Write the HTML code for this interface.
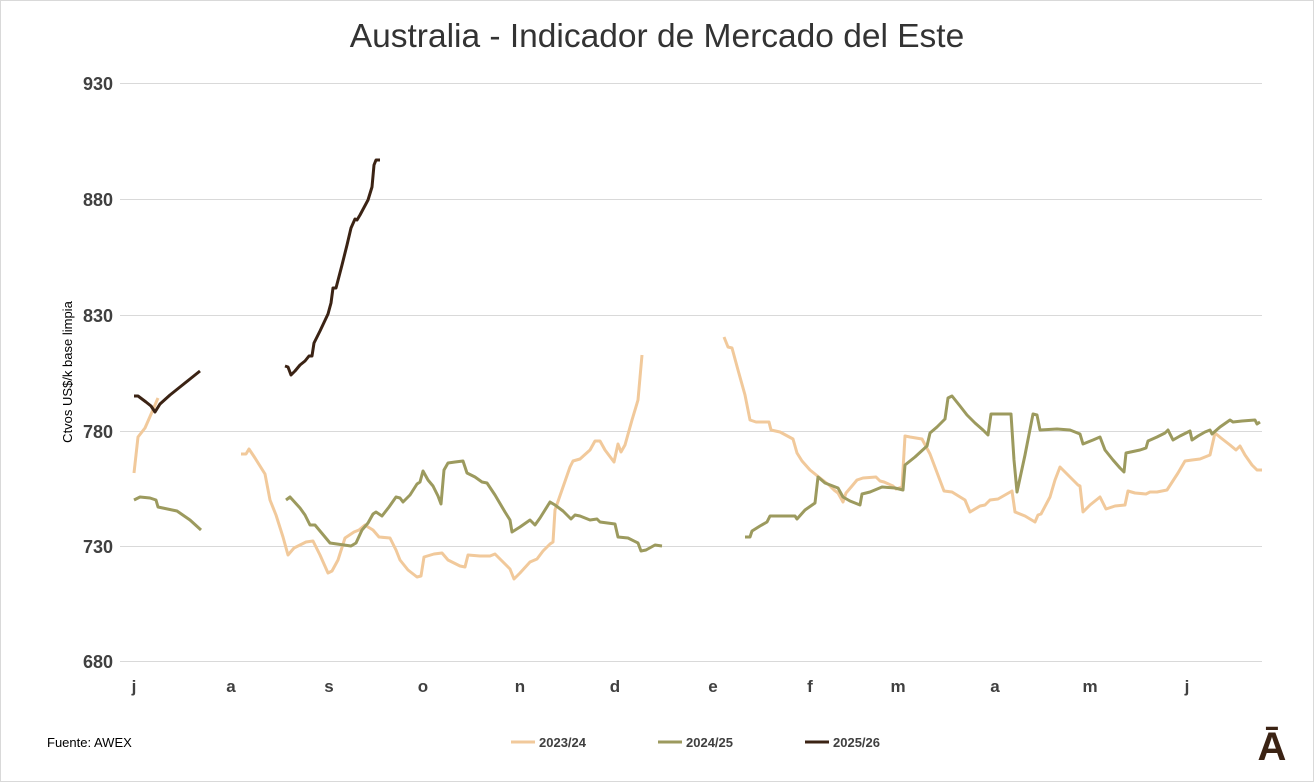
<!DOCTYPE html>
<html><head><meta charset="utf-8"><style>
body{margin:0;background:#fff}
svg{display:block;font-family:"Liberation Sans",sans-serif}
</style></head><body>
<svg width="1314" height="782" viewBox="0 0 1314 782">
<rect x="0.5" y="0.5" width="1313" height="781" fill="#fff" stroke="#d9d9d9"/>
<text x="657" y="47" text-anchor="middle" font-size="33.5" fill="#333">Australia - Indicador de Mercado del Este</text>
<g stroke="#d9d9d9" stroke-width="1">
<line x1="120" x2="1262" y1="83.5" y2="83.5"/><line x1="120" x2="1262" y1="199.5" y2="199.5"/>
<line x1="120" x2="1262" y1="315.5" y2="315.5"/><line x1="120" x2="1262" y1="431.5" y2="431.5"/>
<line x1="120" x2="1262" y1="546.5" y2="546.5"/><line x1="120" x2="1262" y1="661.5" y2="661.5"/>
</g>
<g font-size="18" font-weight="bold" fill="#404040" text-anchor="end">
<text x="113" y="90">930</text><text x="113" y="206">880</text><text x="113" y="322">830</text>
<text x="113" y="438">780</text><text x="113" y="553">730</text><text x="113" y="668">680</text>
</g>
<g font-size="17" font-weight="bold" fill="#404040" text-anchor="middle">
<text x="134" y="692">j</text><text x="231" y="692">a</text><text x="329" y="692">s</text><text x="423" y="692">o</text>
<text x="520" y="692">n</text><text x="615" y="692">d</text><text x="713" y="692">e</text><text x="810" y="692">f</text>
<text x="898" y="692">m</text><text x="995" y="692">a</text><text x="1090" y="692">m</text><text x="1187" y="692">j</text>
</g>
<text transform="translate(72,372) rotate(-90)" text-anchor="middle" font-size="13" fill="#000">Ctvos US$/k base limpia</text>
<g fill="none" stroke-width="3" stroke-linejoin="round">
<g stroke="#F1C99B">
<polyline points="134,473 138,437 145,428 152,412 158,398"/>
<polyline points="241,454 246,454 249,449 255,458 265,474 270,500 276,515 283,537 288,555 294,548 300,545 306,542 313,541 320,555 328,573 332,571 338,560 345,538 354,532 359,530 365,525 368,527 373,530 379,537 390,538 396,550 400,560 408,570 417,577 421,576 424,557 434,554 442,553 448,560 460,566 465,567 468,555 480,556 490,556 495,554 510,569 514,579 520,573 530,562 537,559 543,551 550,544 553,542 555,510 570,467 573,461 580,459 590,450 595,441 600,441 605,450 614,462 618,444 621,452 625,445 632,420 638,400 642,355"/>
<polyline points="724,337 728,347 732,348 738,370 745,395 750,420 756,422 769,422 771,430 780,432 793,439 797,453 802,461 810,470 820,478 829,485 834,490 838,493 843,502 846,493 852,486 857,480 863,478 876,477 880,481 884,482 893,486 896,489 902,487 905,436 910,437 922,439 930,454 944,491 952,492 965,500 970,512 980,506 985,505 990,500 998,499 1012,491 1015,512 1025,516 1035,522 1038,515 1041,514 1050,497 1055,480 1060,467 1068,475 1078,485 1080,486 1083,512 1090,505 1100,497 1106,509 1115,506 1125,505 1128,491 1135,493 1146,494 1150,492 1157,492 1167,490 1178,473 1185,461 1192,460 1200,459 1210,455 1215,433 1221,438 1230,445 1236,450 1240,446 1245,455 1252,465 1257,470 1262,470"/>
</g>
<g stroke="#9C9A5E">
<polyline points="134,500 140,497 150,498 156,500 158,507 177,511 190,520 201,530"/>
<polyline points="286,500 290,497 300,508 305,515 310,525 315,525 330,543 351,546 356,543 362,530 368,523 373,514 376,512 382,516 389,507 396,497 400,498 403,502 410,495 417,484 420,482 423,471 428,480 433,486 438,496 441,504 444,470 448,463 455,462 463,461 467,473 475,477 482,482 487,483 495,495 505,512 510,520 512,532 520,527 530,520 535,525 540,518 550,502 555,505 563,511 571,519 575,515 580,516 590,520 597,519 600,522 615,524 618,537 628,538 638,543 641,551 646,550 655,545 662,546"/>
<polyline points="745,537 750,537 752,531 760,526 767,522 770,516 795,516 797,519 805,510 815,503 818,477 825,483 838,488 843,497 850,501 860,505 862,494 870,492 882,487 895,488 903,490 905,465 915,457 927,446 930,433 937,427 945,419 948,398 952,396 960,406 967,415 975,423 983,430 988,435 991,414 1011,414 1014,460 1017,492 1025,455 1033,414 1037,415 1040,430 1057,429 1070,430 1080,434 1083,444 1093,440 1100,437 1105,450 1113,460 1120,468 1124,472 1126,453 1140,450 1146,448 1148,441 1157,437 1165,433 1168,430 1173,440 1180,436 1190,431 1192,440 1198,436 1205,432 1210,430 1212,434 1220,427 1230,420 1233,422 1242,421 1255,420 1257,424 1260,422"/>
</g>
<g stroke="#3B2314">
<polyline points="134,396 138,396 146,402 151,406 155,412 160,404 170,395 180,387 190,379 200,371"/>
<polyline points="285,366 288,367 291,375 295,371 300,365 305,361 309,356 312,356 314,343 320,331 328,314 331,303 333,288 336,288 342,265 347,245 351,228 355,219 357,220 360,215 368,200 372,187 374,165 376,160 380,160"/>
</g>
</g>
<text x="47" y="747" font-size="13" fill="#000">Fuente: AWEX</text>
<g stroke-width="3"><line x1="511" x2="535" y1="742" y2="742" stroke="#F1C99B"/><line x1="658" x2="682" y1="742" y2="742" stroke="#9C9A5E"/><line x1="805" x2="829" y1="742" y2="742" stroke="#3B2314"/></g>
<g font-size="13" font-weight="bold" fill="#404040"><text x="539" y="747">2023/24</text><text x="686" y="747">2024/25</text><text x="833" y="747">2025/26</text></g>
<text x="1272" y="760" text-anchor="middle" font-size="40" font-weight="bold" fill="#3B2314">Ā</text>
</svg>
</body></html>
